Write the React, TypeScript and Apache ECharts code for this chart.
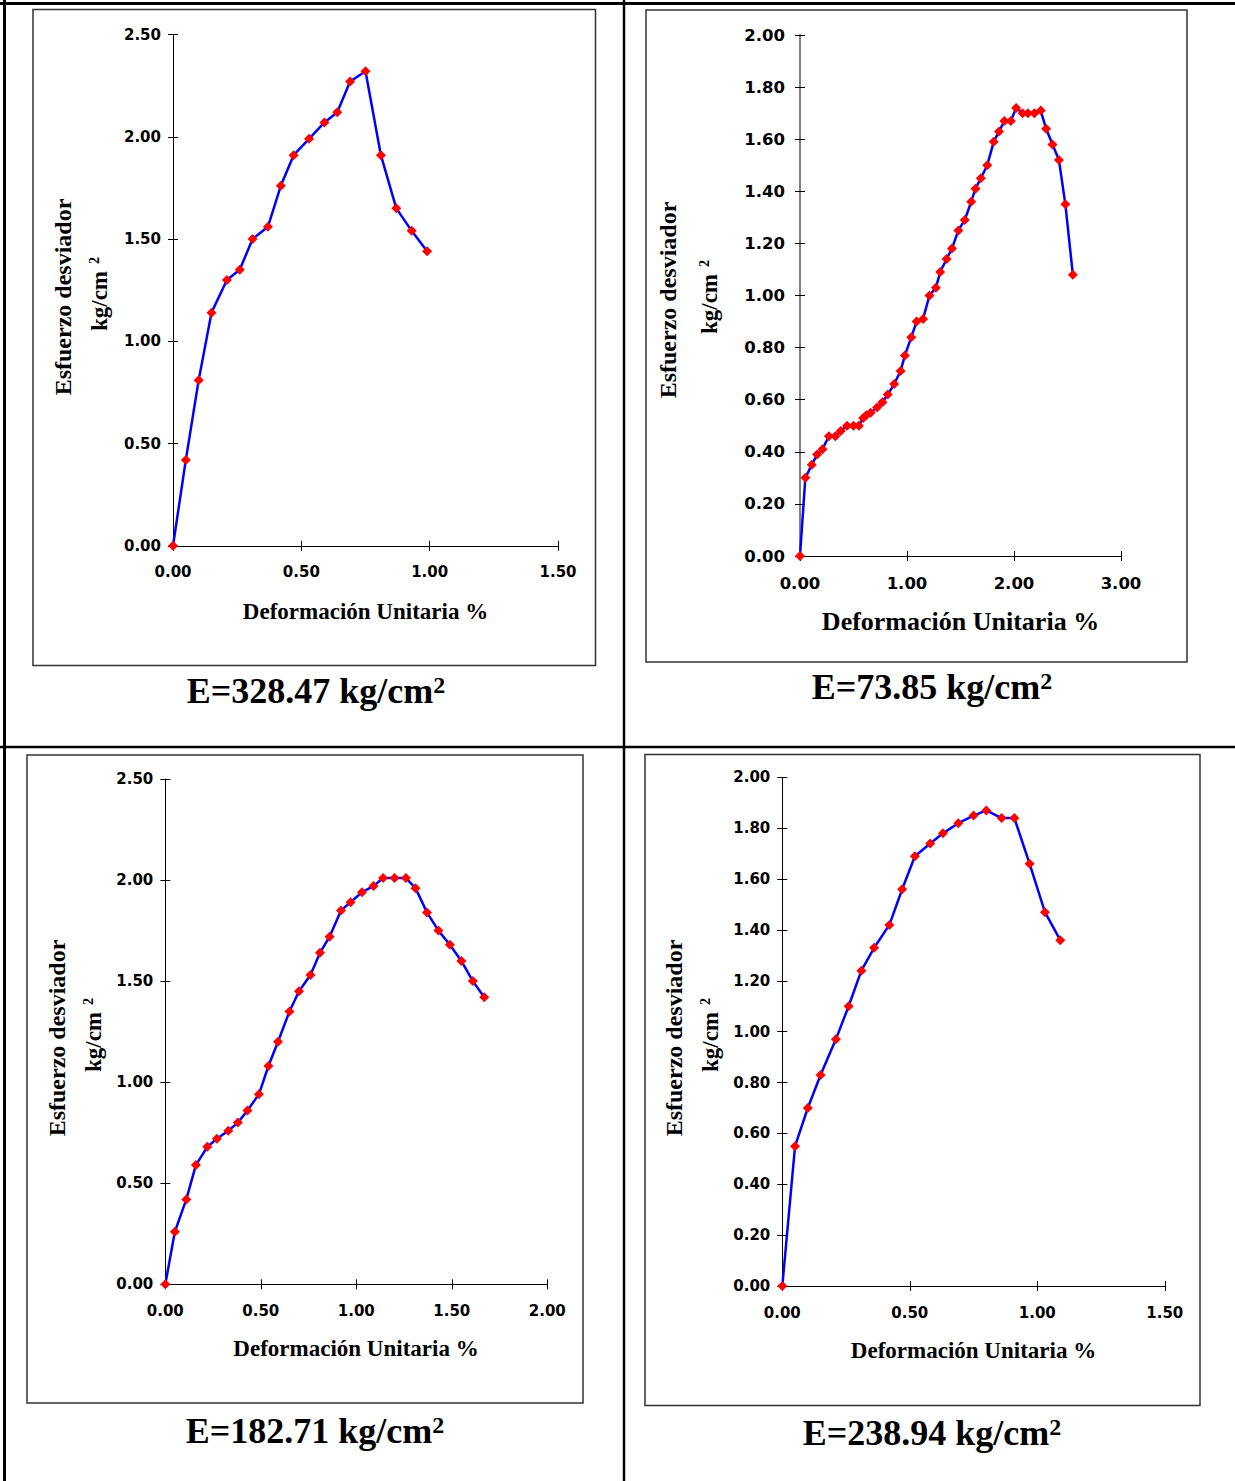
import React, { useEffect, useRef } from "react";
import * as echarts from "echarts";

// ---- data ----
const strain1 = [0, 0.05, 0.10, 0.15, 0.21, 0.26, 0.31, 0.37, 0.42, 0.47, 0.53, 0.59, 0.64, 0.69, 0.75, 0.81, 0.87, 0.93, 0.99];
const stress1 = [0, 0.42, 0.81, 1.14, 1.30, 1.35, 1.50, 1.56, 1.76, 1.91, 1.99, 2.07, 2.12, 2.27, 2.32, 1.91, 1.65, 1.54, 1.44];

const strain2 = [0, 0.05, 0.11, 0.16, 0.21, 0.27, 0.33, 0.38, 0.44, 0.50, 0.55, 0.59, 0.62, 0.66, 0.72, 0.77, 0.82, 0.88, 0.94, 0.98, 1.04, 1.09, 1.15, 1.21, 1.27, 1.31, 1.37, 1.42, 1.48, 1.54, 1.60, 1.64, 1.69, 1.75, 1.81, 1.86, 1.91, 1.97, 2.02, 2.08, 2.13, 2.19, 2.25, 2.30, 2.36, 2.42, 2.48, 2.55];
const stress2 = [0, 0.30, 0.35, 0.39, 0.41, 0.46, 0.46, 0.48, 0.50, 0.50, 0.50, 0.53, 0.54, 0.55, 0.57, 0.59, 0.62, 0.66, 0.71, 0.77, 0.84, 0.90, 0.91, 1.00, 1.03, 1.09, 1.14, 1.18, 1.25, 1.29, 1.36, 1.41, 1.45, 1.50, 1.59, 1.63, 1.67, 1.67, 1.72, 1.70, 1.70, 1.70, 1.71, 1.64, 1.58, 1.52, 1.35, 1.08];

const strain3 = [0, 0.05, 0.11, 0.16, 0.22, 0.27, 0.33, 0.38, 0.43, 0.49, 0.54, 0.59, 0.65, 0.70, 0.76, 0.81, 0.86, 0.92, 0.97, 1.03, 1.09, 1.14, 1.20, 1.26, 1.31, 1.37, 1.43, 1.49, 1.55, 1.61, 1.67];
const stress3 = [0, 0.26, 0.42, 0.59, 0.68, 0.72, 0.76, 0.80, 0.86, 0.94, 1.08, 1.20, 1.35, 1.45, 1.53, 1.64, 1.72, 1.85, 1.89, 1.94, 1.97, 2.01, 2.01, 2.01, 1.96, 1.84, 1.75, 1.68, 1.60, 1.50, 1.42];

const strain4 = [0, 0.05, 0.10, 0.15, 0.21, 0.26, 0.31, 0.36, 0.42, 0.47, 0.52, 0.58, 0.63, 0.69, 0.75, 0.80, 0.86, 0.91, 0.97, 1.03, 1.09];
const stress4 = [0, 0.55, 0.70, 0.83, 0.97, 1.10, 1.24, 1.33, 1.42, 1.56, 1.69, 1.74, 1.78, 1.82, 1.85, 1.87, 1.84, 1.84, 1.66, 1.47, 1.36];

const moduli = ["328.47", "73.85", "182.71", "238.94"];
const xTitle = "Deformación Unitaria %";
const yTitle = "Esfuerzo desviador";
const yUnit = "kg/cm";

// ---- layout ----
const SERIF = "Liberation Serif";
const SANS = "DejaVu Sans";

const panels = [
  { strain: strain1, stress: stress1, grid: { left: 173, top: 34.5, width: 385, height: 511.3 }, xMax: 1.5, xInt: 0.5, yMax: 2.5, yInt: 0.5, fs: 15, yMargin: 12, xMargin: 19, yLine: "#000", yLineW: 1,
    box: [33, 9.5, 562.5, 656], cap: [316, 709], yt: [63, 297], yu: [99, 294], xt: [365.5, 611], xtFs: 23 },
  { strain: strain2, stress: stress2, grid: { left: 800, top: 35, width: 321, height: 521 }, xMax: 3, xInt: 1, yMax: 2, yInt: 0.2, fs: 16.5, yMargin: 15, xMargin: 19, yLine: "#808080", yLineW: 2,
    box: [646, 10, 541, 652], cap: [932, 705], yt: [668, 300], yu: [709, 297], xt: [960.5, 621], xtFs: 26 },
  { strain: strain3, stress: stress3, grid: { left: 165.3, top: 779, width: 382, height: 505.3 }, xMax: 2, xInt: 0.5, yMax: 2.5, yInt: 0.5, fs: 15, yMargin: 12, xMargin: 19, yLine: "#000", yLineW: 1,
    box: [27, 755, 556, 648], cap: [315, 1449], yt: [57, 1038], yu: [93, 1035], xt: [356, 1348], xtFs: 23 },
  { strain: strain4, stress: stress4, grid: { left: 782.3, top: 777.4, width: 382.5, height: 508.6 }, xMax: 1.5, xInt: 0.5, yMax: 2, yInt: 0.2, fs: 15, yMargin: 12, xMargin: 19, yLine: "#000", yLineW: 1,
    box: [645, 754.5, 555, 651], cap: [932, 1451], yt: [674, 1038], yu: [710, 1035], xt: [973.5, 1350], xtFs: 23 },
];

function mainAxis(gi: number, max: number, interval: number, fs: number, margin: number, pos: string, lineColor: string, lineW: number) {
  return {
    type: "value", gridIndex: gi, position: pos, min: 0, max, interval,
    axisLine: { show: true, onZero: false, lineStyle: { color: lineColor, width: lineW } },
    axisTick: { show: true, inside: false, length: 5, lineStyle: { color: "#000", width: 1 } },
    axisLabel: { show: true, margin, formatter: (v: number) => v.toFixed(2), fontFamily: SANS, fontWeight: "bold", fontSize: fs, color: "#000" },
    splitLine: { show: false },
  };
}
function tickAxis(gi: number, max: number, interval: number, pos: string) {
  return {
    type: "value", gridIndex: gi, position: pos, min: 0, max, interval,
    axisLine: { show: false, onZero: false },
    axisTick: { show: true, inside: true, length: 5, lineStyle: { color: "#000", width: 1 } },
    axisLabel: { show: false },
    splitLine: { show: false },
  };
}

export default function App() {
  const ref = useRef<HTMLDivElement>(null);
  useEffect(() => {
    if (!ref.current) return;
    const chart = echarts.init(ref.current, null, { renderer: "svg" });
    const grids: any[] = [];
    const xAxes: any[] = [];
    const yAxes: any[] = [];
    const series: any[] = [];
    const graphics: any[] = [];

    // table lines
    graphics.push(
      { type: "line", shape: { x1: 0, y1: 3.5, x2: 1235, y2: 3.5 }, style: { stroke: "#000", lineWidth: 3 } },
      { type: "line", shape: { x1: 4.5, y1: 0, x2: 4.5, y2: 1481 }, style: { stroke: "#000", lineWidth: 3 } },
      { type: "line", shape: { x1: 624, y1: 0, x2: 624, y2: 1481 }, style: { stroke: "#000", lineWidth: 2.5 } },
      { type: "line", shape: { x1: 0, y1: 747, x2: 1235, y2: 747 }, style: { stroke: "#000", lineWidth: 2.5 } }
    );

    panels.forEach((p, i) => {
      grids.push({ ...p.grid, containLabel: false });
      xAxes.push(mainAxis(i, p.xMax, p.xInt, p.fs, p.xMargin, "bottom", "#000", 1));
      xAxes.push(tickAxis(i, p.xMax, p.xInt, "bottom"));
      yAxes.push(mainAxis(i, p.yMax, p.yInt, p.fs, p.yMargin, "left", p.yLine, p.yLineW));
      yAxes.push(tickAxis(i, p.yMax, p.yInt, "left"));
      series.push({
        type: "line",
        xAxisIndex: i * 2,
        yAxisIndex: i * 2,
        data: p.strain.map((s, k) => [s, p.stress[k]]),
        symbol: "diamond",
        symbolSize: 10,
        showSymbol: true,
        itemStyle: { color: "#ff0000", borderWidth: 0 },
        lineStyle: { color: "#0000ff", width: 2.5 },
        emphasis: { disabled: true },
        z: 3,
      });
      const [bx, by, bw, bh] = p.box;
      graphics.push({ type: "rect", shape: { x: bx, y: by, width: bw, height: bh }, style: { fill: "none", stroke: "#333", lineWidth: 1.5 }, z: -1 });
      graphics.push({
        type: "text", x: p.cap[0], y: p.cap[1],
        style: {
          text: `{m|E=${moduli[i]} kg/cm}{s|2}`,
          align: "center", verticalAlign: "bottom",
          rich: {
            m: { fontFamily: SERIF, fontWeight: "bold", fontSize: 36, fill: "#000", verticalAlign: "bottom" },
            s: { fontFamily: SERIF, fontWeight: "bold", fontSize: 24, fill: "#000", verticalAlign: "top" },
          },
        },
      });
      graphics.push({
        type: "text", x: p.xt[0], y: p.xt[1],
        style: { text: xTitle, fontFamily: SERIF, fontWeight: "bold", fontSize: p.xtFs, fill: "#000", align: "center", verticalAlign: "middle" },
      });
      graphics.push({
        type: "text", x: p.yt[0], y: p.yt[1], rotation: Math.PI / 2,
        style: { text: yTitle, fontFamily: SERIF, fontWeight: "bold", fontSize: 24, fill: "#000", align: "center", verticalAlign: "middle" },
      });
      graphics.push({
        type: "text", x: p.yu[0], y: p.yu[1], rotation: Math.PI / 2,
        style: {
          text: `{m|${yUnit}}{s|2}`,
          align: "center", verticalAlign: "middle",
          rich: {
            m: { fontFamily: SERIF, fontWeight: "bold", fontSize: 23, fill: "#000", verticalAlign: "bottom" },
            s: { fontFamily: SERIF, fontWeight: "bold", fontSize: 14, fill: "#000", verticalAlign: "top", padding: [0, 0, 6, 7] },
          },
        },
      });
    });

    chart.setOption({
      animation: false,
      backgroundColor: "#fff",
      grid: grids,
      xAxis: xAxes,
      yAxis: yAxes,
      series,
      graphic: { elements: graphics },
    });
    return () => chart.dispose();
  }, []);
  return <div ref={ref} style={{ position: "absolute", left: 0, top: 0, width: 1235, height: 1481, background: "#fff" }} />;
}
